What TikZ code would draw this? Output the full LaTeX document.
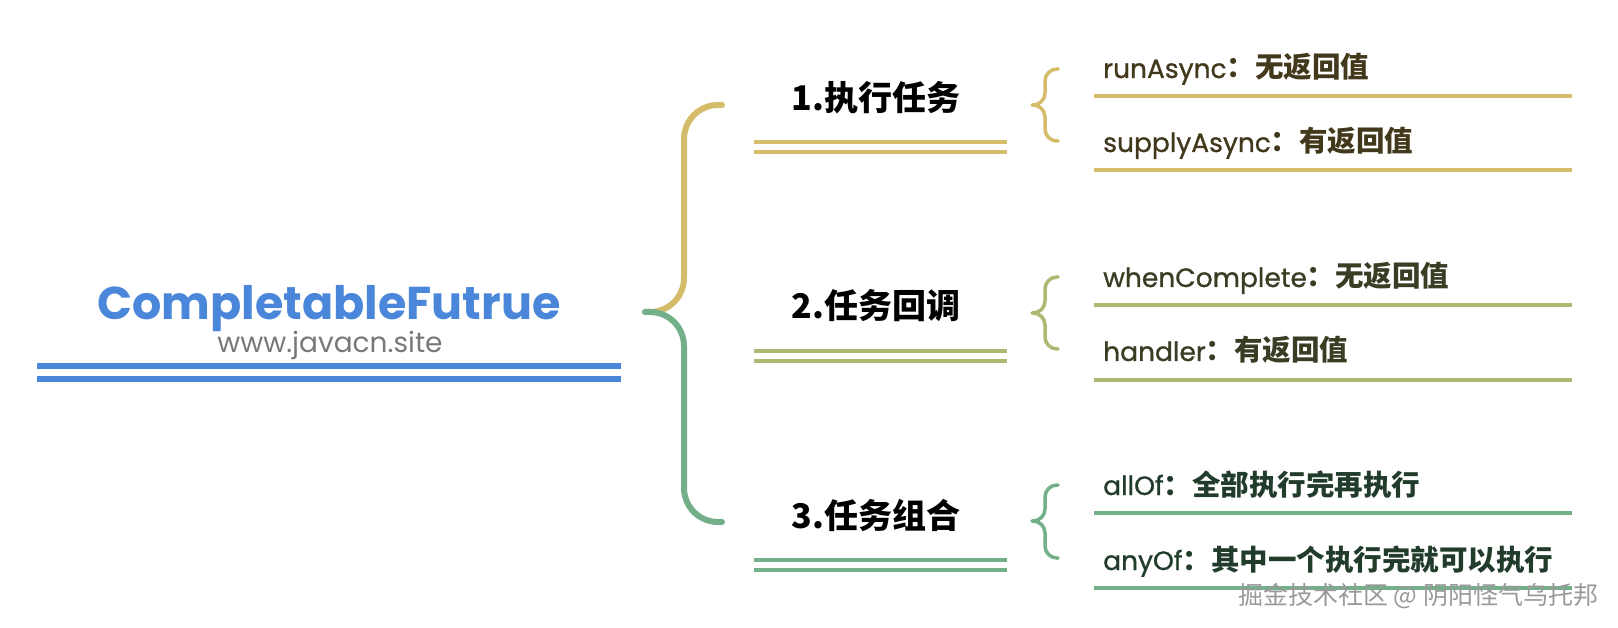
\documentclass[tikz,border=0pt]{standalone}
\usepackage{fontspec}
\setmainfont{Poppins}
\newfontfamily\cjk{Noto Sans CJK SC}
\newfontfamily\leaflat{Poppins}[FakeBold=0.9]
\newcommand\leafcjk[1]{{\cjk\bfseries\fontsize{28.5}{30}\selectfont #1}}
\definecolor{cfblue}{RGB}{74,134,218}
\definecolor{cfgold}{RGB}{212,188,106}
\definecolor{cfolive}{RGB}{174,184,115}
\definecolor{cfgreen}{RGB}{115,176,138}
\definecolor{txgold}{RGB}{66,56,28}
\definecolor{txolive}{RGB}{58,60,36}
\definecolor{txgreen}{RGB}{34,60,44}
\definecolor{cfgray}{RGB}{120,120,120}
\tikzset{
  bigbrace/.style={line width=6pt, rounded corners=34pt, line cap=round},
  smallbrace/.style={line width=3.5pt, rounded corners=12pt, line cap=round},
  rule/.style={line width=4pt},
  toprule/.style={line width=5.5pt},
  leaf/.style={anchor=base west, inner sep=0pt, font=\fontsize{26.5}{30}\selectfont\leaflat},
  branch/.style={anchor=base, inner sep=0pt, font=\fontsize{34}{40}\selectfont\bfseries\cjk, text=black},
}
\begin{document}
\begin{tikzpicture}[x=1pt,y=-1pt]
\useasboundingbox (0,0) rectangle (1618,628);
% root
\node[anchor=base, inner sep=0pt, text=cfblue, font=\fontsize{46}{54}\selectfont\bfseries] (root) at (329,320) {CompletableFutrue};
\node[anchor=base, inner sep=0pt, text=cfgray, font=\fontsize{28}{32}\selectfont] (site) at (330,353) {www.javacn.site};
\coordinate (r1a) at (37,366); \coordinate (r1b) at (621,366);
\coordinate (r2a) at (37,379); \coordinate (r2b) at (621,379);
\draw[toprule, cfblue] (r1a) -- (r1b);
\draw[toprule, cfblue] (r2a) -- (r2b);
% big brace
\coordinate (cusp) at (645,312);
\coordinate (btop) at (722,105);
\coordinate (bbot) at (722,522);
\draw[bigbrace, cfgold] (btop) -- (684,105) -- (684,312) -- (cusp);
\draw[bigbrace, cfgreen] (cusp) -- (684,312) -- (684,522) -- (bbot);
% branches
\node[branch] (b1) at (876,111) {1.执行任务};
\node[branch] (b2) at (876,319) {2.任务回调};
\node[branch] (b3) at (876,528) {3.任务组合};
\foreach \y/\c in {142/cfgold,152/cfgold,351/cfolive,361/cfolive,560/cfgreen,570/cfgreen}{
  \draw[rule, \c] (754,\y) -- (1007,\y);
}
% small braces
\foreach \t/\m/\b/\c in {69/105/141/cfgold, 277/313/349/cfolive, 485/521/558/cfgreen}{
  \draw[smallbrace, \c] (1058,\t) -- (1045,\t) -- (1045,\m) -- (1032,\m);
  \draw[smallbrace, \c] (1032,\m) -- (1045,\m) -- (1045,\b) -- (1058,\b);
}
% leaves
\node[leaf, text=txgold] (l1) at (1103,78) {runAsync\leafcjk{：无返回值}};
\node[leaf, text=txgold] (l2) at (1103,152) {supplyAsync\leafcjk{：有返回值}};
\node[leaf, text=txolive] (l3) at (1103,287) {whenComplete\leafcjk{：无返回值}};
\node[leaf, text=txolive] (l4) at (1103,361) {handler\leafcjk{：有返回值}};
\node[leaf, text=txgreen] (l5) at (1103,495) {allOf\leafcjk{：全部执行完再执行}};
\node[leaf, text=txgreen] (l6) at (1103,570) {anyOf\leafcjk{：其中一个执行完就可以执行}};
\foreach \y/\c in {96/cfgold,170/cfgold,305/cfolive,380/cfolive,513/cfgreen,588/cfgreen}{
  \draw[rule, \c] (1094,\y) -- (1572,\y);
}
% watermark
\node[anchor=base west, inner sep=0pt, text=black!40, font=\fontsize{25}{30}\selectfont\cjk] (wm) at (1238,604) {掘金技术社区 @ 阴阳怪气乌托邦};
\end{tikzpicture}
\end{document}
